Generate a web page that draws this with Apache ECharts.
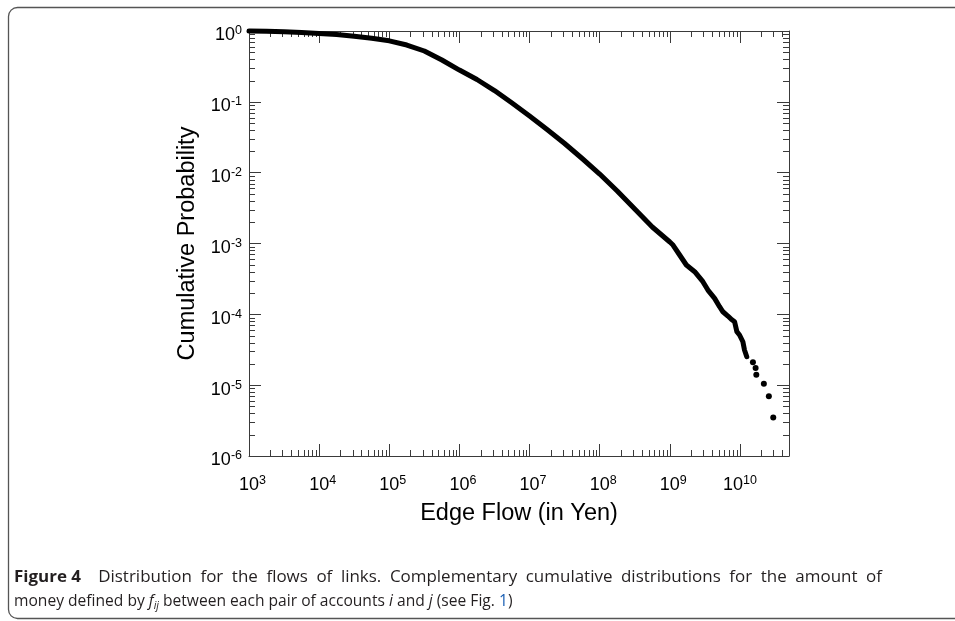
<!DOCTYPE html>
<html><head><meta charset="utf-8">
<script src="https://cdn.jsdelivr.net/npm/echarts@6/dist/echarts.min.js"></script>
<style>html,body{margin:0;padding:0;background:#fff;}#c{width:955px;height:621px;}</style>
</head><body><div id="c"></div>
<script>
// ---- data ----
const flowX = [1.0e3, 1.778e3, 3.162e3, 5.623e3, 1.0e4, 1.778e4, 3.162e4, 5.623e4, 1.0e5, 1.778e5, 3.162e5, 5.623e5, 1.0e6, 1.778e6, 3.162e6, 5.623e6, 1.0e7, 1.778e7, 3.162e7, 5.623e7, 1.0e8, 1.778e8, 3.162e8, 5.623e8, 1.0e9, 1.11e9, 1.38e9, 1.72e9, 2.26e9, 2.96e9, 3.49e9, 4.35e9, 5.12e9, 5.71e9, 6.73e9, 7.52e9, 8.38e9, 8.85e9, 9.03e9, 9.86e9, 1.10e10, 1.16e10, 1.25e10];
const flowP = [1.0, 0.990, 0.974, 0.952, 0.925, 0.890, 0.845, 0.791, 0.727, 0.634, 0.522, 0.390, 0.281, 0.2067, 0.1445, 0.0963, 0.0631, 0.0407, 0.0258, 0.01584, 0.00957, 0.00551, 0.00307, 0.00171, 0.00105, 9.52e-4, 6.88e-4, 4.97e-4, 4.0e-4, 2.89e-4, 2.20e-4, 1.68e-4, 1.28e-4, 1.087e-4, 9.46e-5, 8.5e-5, 7.87e-5, 7.46e-5, 5.69e-5, 5.11e-5, 4.10e-5, 3.13e-5, 2.52e-5];
const tailX = [1.53e10, 1.67e10, 1.71e10, 2.19e10, 2.58e10, 2.98e10];
const tailP = [2.1e-5, 1.75e-5, 1.4e-5, 1.05e-5, 7.0e-6, 3.5e-6];
const xDecades = [3, 4, 5, 6, 7, 8, 9, 10];
const yDecades = [-6, -5, -4, -3, -2, -1];
const minorMult = [2, 3, 4, 5, 6, 7, 8, 9];
const xMin = 1e3, xMax = 5e10, yMin = 1e-6, yMax = 1;
const xTitle = 'Edge Flow (in Yen)';
const yTitle = 'Cumulative Probability';
const capBold = 'Figure 4';
const capLine1 = 'Distribution for the flows of links. Complementary cumulative distributions for the amount of';

// ---- derived ----
const curve = flowX.map((x, i) => [x, flowP[i]]);
const tail = tailX.map((x, i) => [x, tailP[i]]);
const xMinor = [];
xDecades.forEach(d => minorMult.forEach(k => { const v = k * Math.pow(10, d); if (v < xMax) xMinor.push([v, 1e-3]); }));
const yMinor = [];
yDecades.forEach(d => minorMult.forEach(k => { const v = k * Math.pow(10, d); if (v < yMax) yMinor.push([1e4, v]); }));

const axisColor = '#3a3a3a';
const labelFont = '"Liberation Sans", Arial, Helvetica, sans-serif';
const richX = {
  bp: { fontSize: 18, lineHeight: 22, fontFamily: labelFont, color: '#000', padding: [0, 0, 0, 7] },
  bw: { fontSize: 18, lineHeight: 22, fontFamily: labelFont, color: '#000' },
  s: { fontSize: 12.5, lineHeight: 12.5, fontFamily: labelFont, color: '#000', verticalAlign: 'top' }
};
const richY = {
  b: { fontSize: 18, lineHeight: 22, fontFamily: labelFont, color: '#000' },
  s: { fontSize: 12.5, lineHeight: 12.5, fontFamily: labelFont, color: '#000', verticalAlign: 'top' }
};
function expOf(v) { return Math.round(Math.log10(v)); }

function tickRenderer(dir) {
  return function (params, api) {
    const cs = params.coordSys;
    const p = api.coord([api.value(0), api.value(1)]);
    const st = { stroke: axisColor, lineWidth: 1 };
    const L = 6;
    if (dir === 'x') {
      const x = Math.round(p[0]) + 0.5;
      const yb = cs.y + cs.height, yt = cs.y;
      return { type: 'group', children: [
        { type: 'line', shape: { x1: x, y1: yb, x2: x, y2: yb - L }, style: st },
        { type: 'line', shape: { x1: x, y1: yt, x2: x, y2: yt + L }, style: st }
      ] };
    } else {
      const y = Math.round(p[1]) + 0.5;
      const xl = cs.x, xr = cs.x + cs.width;
      return { type: 'group', children: [
        { type: 'line', shape: { x1: xl, y1: y, x2: xl + L, y2: y }, style: st },
        { type: 'line', shape: { x1: xr, y1: y, x2: xr - L, y2: y }, style: st }
      ] };
    }
  };
}

// caption: first line justified to the text width
const capFam = '"Open Sans", "Noto Sans", sans-serif';
const capFs = 16;
const capW = 868;
const cap1Scale = 1.06;
const ctx = document.createElement('canvas').getContext('2d');
function mw(font, t) { ctx.font = font; return ctx.measureText(t).width; }
const words = capLine1.split(' ');
let used = mw('bold ' + capFs + 'px ' + capFam, capBold);
words.forEach(w => { used += mw(capFs + 'px ' + capFam, w); });
const nGaps = words.length - 1 + 2;
const spW = Math.max(3, (capW / cap1Scale - used) / nGaps);
const line1Text = '{bold|' + capBold + '}{gap| }' + words.map(w => '{n|' + w + '}').join('{sp| }');

const capRich = {
  bold: { fontSize: capFs, fontWeight: 'bold', fontFamily: capFam, fill: '#231f20', lineHeight: 20 },
  n: { fontSize: capFs, fontFamily: capFam, fill: '#231f20', lineHeight: 20 },
  sp: { fontSize: capFs, fontFamily: capFam, fill: '#231f20', lineHeight: 20, width: spW },
  gap: { fontSize: capFs, fontFamily: capFam, fill: '#231f20', lineHeight: 20, width: spW * 2 },
  n2: { fontSize: 15.6, fontFamily: capFam, fill: '#231f20', lineHeight: 20 },
  it: { fontSize: 15.6, fontStyle: 'italic', fontFamily: capFam, fill: '#231f20', lineHeight: 20 },
  sub: { fontSize: 10.5, fontStyle: 'italic', fontFamily: capFam, fill: '#231f20', lineHeight: 10, verticalAlign: 'bottom' },
  blue: { fontSize: 15.6, fontFamily: capFam, fill: '#1a5fb4', lineHeight: 20 }
};

const chart = echarts.init(document.getElementById('c'), null, { renderer: 'canvas' });
const option = {
  animation: false,
  backgroundColor: '#fff',
  grid: { left: 249, top: 31, right: 166, bottom: 165, containLabel: false },
  xAxis: [
    {
      type: 'log', logBase: 10, min: xMin, max: xMax, position: 'bottom',
      name: xTitle, nameLocation: 'middle', nameGap: 46,
      nameTextStyle: { fontSize: 23.5, fontFamily: labelFont, color: '#000' },
      axisLine: { lineStyle: { color: axisColor, width: 1 } },
      axisTick: { inside: true, length: 12, lineStyle: { color: axisColor, width: 1 } },
      minorTick: { show: false },
      splitLine: { show: false },
      axisLabel: {
        margin: 18, showMaxLabel: false, rich: richX, fontSize: 18, fontFamily: labelFont, color: '#000',
        formatter: v => { const e = expOf(v); return (e >= 10 ? '{bw|10}' : '{bp|10}') + '{s|' + e + '}'; }
      }
    },
    {
      type: 'log', logBase: 10, min: xMin, max: xMax, position: 'top',
      axisLine: { lineStyle: { color: axisColor, width: 1 } },
      axisTick: { inside: true, length: 12, lineStyle: { color: axisColor, width: 1 } },
      axisLabel: { show: false }, splitLine: { show: false }
    }
  ],
  yAxis: [
    {
      type: 'log', logBase: 10, min: yMin, max: yMax, position: 'left',
      name: yTitle, nameLocation: 'middle', nameGap: 48, nameRotate: 90,
      nameTextStyle: { fontSize: 23.5, fontFamily: labelFont, color: '#000' },
      axisLine: { lineStyle: { color: axisColor, width: 1 } },
      axisTick: { inside: true, length: 12, lineStyle: { color: axisColor, width: 1 } },
      splitLine: { show: false },
      axisLabel: {
        margin: 7, rich: richY, padding: [9, 0, 0, 0], fontSize: 18, fontFamily: labelFont, color: '#000',
        formatter: v => '{b|10}{s|' + expOf(v) + '}'
      }
    },
    {
      type: 'log', logBase: 10, min: yMin, max: yMax, position: 'right',
      axisLine: { lineStyle: { color: axisColor, width: 1 } },
      axisTick: { inside: true, length: 12, lineStyle: { color: axisColor, width: 1 } },
      axisLabel: { show: false }, splitLine: { show: false }
    }
  ],
  series: [
    {
      type: 'custom', xAxisIndex: 0, yAxisIndex: 0, silent: true, clip: false,
      renderItem: tickRenderer('x'), data: xMinor, z: 1
    },
    {
      type: 'custom', xAxisIndex: 0, yAxisIndex: 0, silent: true, clip: false,
      renderItem: tickRenderer('y'), data: yMinor, z: 1
    },
    {
      type: 'line', xAxisIndex: 0, yAxisIndex: 0, data: curve, showSymbol: false,
      smooth: false, clip: false, silent: true,
      lineStyle: { color: '#000', width: 5, cap: 'round', join: 'round' }, z: 3
    },
    {
      type: 'scatter', xAxisIndex: 0, yAxisIndex: 0, data: tail, symbol: 'circle', symbolSize: 6,
      itemStyle: { color: '#000', opacity: 1 }, silent: true, clip: false, z: 3
    }
  ],
  graphic: [
    {
      type: 'rect', silent: true, z: -1,
      shape: { x: 8.5, y: 7.5, width: 1000, height: 611, r: 9 },
      style: { fill: 'none', stroke: '#555', lineWidth: 1.3 }
    },
    {
      type: 'text', silent: true, x: 14, y: 567, scaleX: cap1Scale,
      style: { text: line1Text, rich: capRich, font: capFs + 'px ' + capFam }
    },
    {
      type: 'text', silent: true, x: 14, y: 592,
      style: {
        text: '{n2|money defined by }{it|f}{sub|ij}{n2| between each pair of accounts }{it|i}{n2| and }{it|j}{n2| (see Fig. }{blue|1}{n2|)}',
        rich: capRich, font: '15.6px ' + capFam
      }
    }
  ]
};
chart.setOption(option);
</script>
</body></html>
